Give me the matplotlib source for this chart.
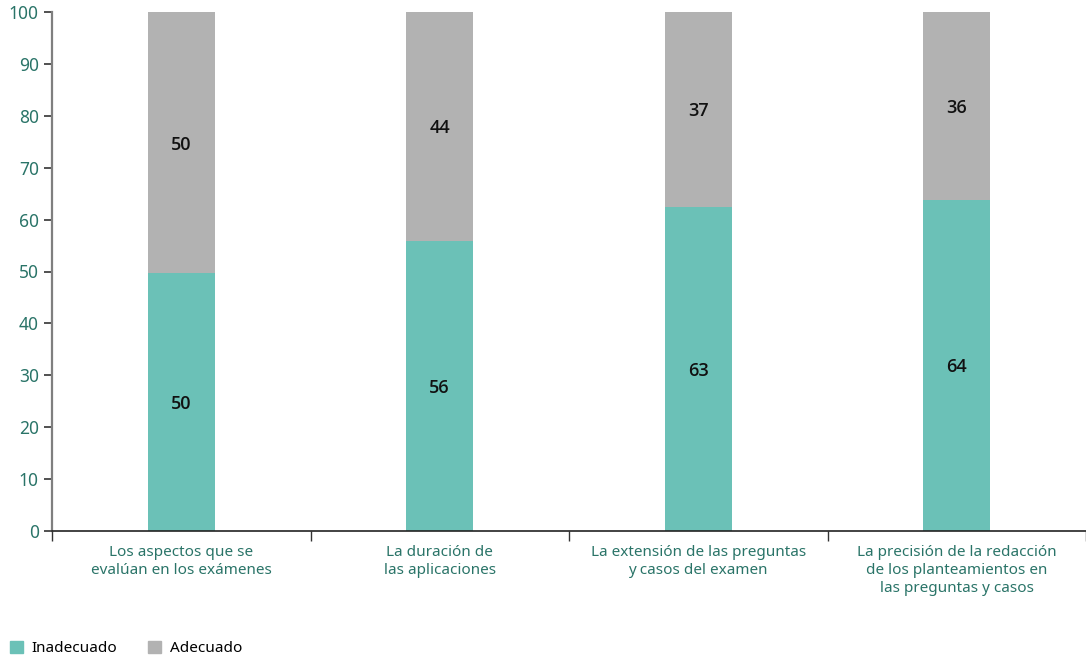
import matplotlib.pyplot as plt
import numpy as np
from matplotlib.patches import Patch

plt.rcParams['font.family'] = ['Noto Sans', 'DejaVu Sans']

categorias = [
    "Los aspectos que se\nevalúan en los exámenes",
    "La duración de\nlas aplicaciones",
    "La extensión de las preguntas\ny casos del examen",
    "La precisión de la redacción\nde los planteamientos en\nlas preguntas y casos",
]
inadecuado = [49.7, 55.9, 62.5, 63.8]
adecuado = [50.3, 44.1, 37.5, 36.2]
etiquetas_inadecuado = ["50", "56", "63", "64"]
etiquetas_adecuado = ["50", "44", "37", "36"]

verde = "#6bc1b7"
gris = "#b2b2b2"
texto = "#2a7468"

fig = plt.figure(figsize=(10.86, 6.59), dpi=100)
ax = fig.add_axes([52 / 1086, 128 / 659, 1 - 52 / 1086, 519 / 659])

x = np.arange(len(categorias))
ancho = 0.26
ax.bar(x, inadecuado, ancho, color=verde, label="Inadecuado")
ax.bar(x, adecuado, ancho, bottom=inadecuado, color=gris, label="Adecuado")

fuente_valor = dict(ha="center", va="center_baseline", fontsize=13, fontweight="semibold",
                    family=["Open Sans", "DejaVu Sans"], color="#111111")
for i in range(len(x)):
    ax.text(x[i], inadecuado[i] / 2, etiquetas_inadecuado[i], **fuente_valor)
    ax.text(x[i], inadecuado[i] + adecuado[i] / 2, etiquetas_adecuado[i], **fuente_valor)

ax.set_xlim(-0.5, 3.5)
ax.set_ylim(0, 100)
ax.set_yticks(np.arange(0, 101, 10))
ax.tick_params(axis="y", labelsize=12.5, labelcolor=texto, color="#333333", length=6, width=1.2)

ax.set_xticks(x)
ax.set_xticklabels(categorias, fontsize=11, color=texto, linespacing=1.3)
ax.tick_params(axis="x", length=0, pad=10)
ax.set_xticks(np.arange(-0.5, 3.6, 1), minor=True)
ax.tick_params(axis="x", which="minor", length=7, width=1, color="#333333")

for s in ["top", "right"]:
    ax.spines[s].set_visible(False)
ax.spines["left"].set_color("#7f7f7f")
ax.spines["left"].set_linewidth(1.6)
ax.spines["bottom"].set_color("#222222")
ax.spines["bottom"].set_linewidth(1.2)

handles = [Patch(color=verde, label="Inadecuado"), Patch(color=gris, label="Adecuado")]
fig.legend(handles=handles, loc="lower left", bbox_to_anchor=(-0.003, -0.017), ncol=2, frameon=False,
           fontsize=11, handlelength=0.85, handleheight=0.85, handletextpad=0.55, columnspacing=2.0)

fig.savefig("out.png", dpi=100)
